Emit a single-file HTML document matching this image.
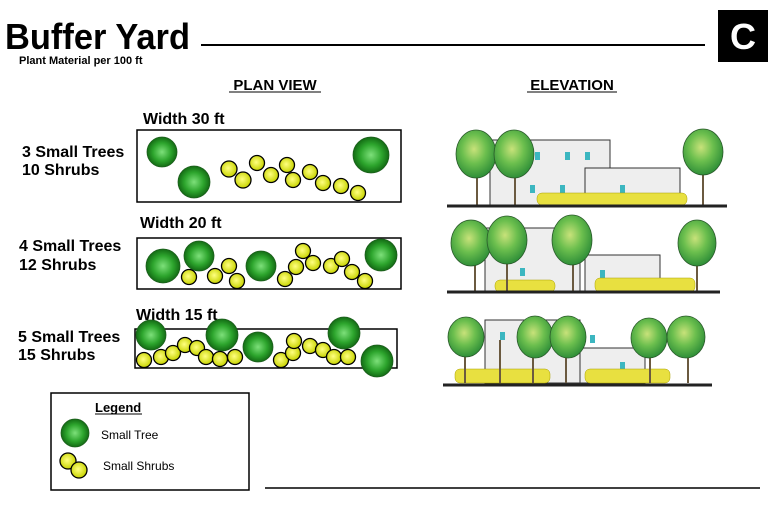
<!DOCTYPE html><html><head><style>
body{margin:0;width:784px;height:500px;background:#fff;overflow:hidden;font-family:"Liberation Sans",sans-serif}
</style></head><body>
<svg width="784" height="500" xmlns="http://www.w3.org/2000/svg">
<defs>
<radialGradient id="g" cx="50%" cy="50%" r="50%"><stop offset="0" stop-color="#7de07a"/><stop offset="0.6" stop-color="#2da52d"/><stop offset="1" stop-color="#136b14"/></radialGradient>
<radialGradient id="y" cx="45%" cy="45%" r="55%"><stop offset="0" stop-color="#ffff80"/><stop offset="1" stop-color="#c8d400"/></radialGradient>
<radialGradient id="lt" cx="45%" cy="40%" r="60%"><stop offset="0" stop-color="#c8e27a"/><stop offset="0.5" stop-color="#6cbf4e"/><stop offset="1" stop-color="#2f8f38"/></radialGradient>
</defs>
<text x="5" y="49" font-size="36" font-weight="bold" fill="#000" textLength="185" lengthAdjust="spacingAndGlyphs">Buffer Yard</text>
<text x="19" y="64" font-size="11" font-weight="bold">Plant Material per 100 ft</text>
<line x1="201" y1="45" x2="705" y2="45" stroke="#000" stroke-width="2"/>
<rect x="718" y="10" width="50" height="52" fill="#000"/>
<text x="743" y="49" font-size="36" font-weight="bold" fill="#fff" text-anchor="middle">C</text>
<text x="275" y="90" font-size="15" font-weight="bold" text-anchor="middle">PLAN VIEW</text>
<line x1="229" y1="92" x2="321" y2="92" stroke="#000"/>
<text x="572" y="90" font-size="15" font-weight="bold" text-anchor="middle">ELEVATION</text>
<line x1="527" y1="92" x2="617" y2="92" stroke="#000"/>
<g font-size="16" font-weight="bold">
<text x="143" y="124">Width 30 ft</text>
<text x="22" y="157">3 Small Trees</text><text x="22" y="175">10 Shrubs</text>
<text x="140" y="228">Width 20 ft</text>
<text x="19" y="251">4 Small Trees</text><text x="19" y="270">12 Shrubs</text>
<text x="136" y="320">Width 15 ft</text>
<text x="18" y="342">5 Small Trees</text><text x="18" y="360">15 Shrubs</text>
</g>
<g fill="none" stroke="#000" stroke-width="1.5">
<rect x="137" y="130" width="264" height="72"/>
<rect x="137" y="238" width="264" height="51"/>
<rect x="135" y="329" width="262" height="39"/>
</g>
<g fill="url(#g)" stroke="#1d5e1d" stroke-width="0.8">
<circle cx="162" cy="152" r="15"/><circle cx="194" cy="182" r="16"/><circle cx="371" cy="155" r="18"/>
<circle cx="163" cy="266" r="17"/><circle cx="199" cy="256" r="15"/><circle cx="261" cy="266" r="15"/><circle cx="381" cy="255" r="16"/>
<circle cx="151" cy="335" r="15"/><circle cx="222" cy="335" r="16"/><circle cx="258" cy="347" r="15"/><circle cx="344" cy="333" r="16"/><circle cx="377" cy="361" r="16"/>
<circle cx="75" cy="433" r="14"/>
</g>
<g fill="url(#y)" stroke="#000" stroke-width="1.3">
<circle cx="229" cy="169" r="8"/><circle cx="243" cy="180" r="8"/><circle cx="257" cy="163" r="7.5"/><circle cx="271" cy="175" r="7.5"/><circle cx="287" cy="165" r="7.5"/><circle cx="293" cy="180" r="7.5"/><circle cx="310" cy="172" r="7.5"/><circle cx="323" cy="183" r="7.5"/><circle cx="341" cy="186" r="7.5"/><circle cx="358" cy="193" r="7.5"/>
<circle cx="189" cy="277" r="7.5"/><circle cx="215" cy="276" r="7.5"/><circle cx="229" cy="266" r="7.5"/><circle cx="237" cy="281" r="7.5"/><circle cx="285" cy="279" r="7.5"/><circle cx="296" cy="267" r="7.5"/><circle cx="303" cy="251" r="7.5"/><circle cx="313" cy="263" r="7.5"/><circle cx="331" cy="266" r="7.5"/><circle cx="342" cy="259" r="7.5"/><circle cx="352" cy="272" r="7.5"/><circle cx="365" cy="281" r="7.5"/>
<circle cx="144" cy="360" r="7.5"/><circle cx="161" cy="357" r="7.5"/><circle cx="173" cy="353" r="7.5"/><circle cx="185" cy="345" r="7.5"/><circle cx="197" cy="348" r="7.5"/><circle cx="206" cy="357" r="7.5"/><circle cx="220" cy="359" r="7.5"/><circle cx="235" cy="357" r="7.5"/><circle cx="281" cy="360" r="7.5"/><circle cx="293" cy="353" r="7.5"/><circle cx="294" cy="341" r="7.5"/><circle cx="310" cy="346" r="7.5"/><circle cx="323" cy="350" r="7.5"/><circle cx="334" cy="357" r="7.5"/><circle cx="348" cy="357" r="7.5"/>
<circle cx="68" cy="461" r="8"/><circle cx="79" cy="470" r="8"/>
</g>
<g stroke="#333" stroke-width="1">
<rect x="490" y="140" width="120" height="65" fill="#eee"/><rect x="585" y="168" width="95" height="37" fill="#eee"/>
<rect x="485" y="228" width="95" height="64" fill="#eee"/><rect x="585" y="255" width="75" height="37" fill="#eee"/>
<rect x="485" y="320" width="95" height="63" fill="#eee"/><rect x="580" y="348" width="65" height="35" fill="#eee"/>
</g>
<g fill="#3cb6c0">
<rect x="535" y="152" width="5" height="8"/><rect x="565" y="152" width="5" height="8"/><rect x="585" y="152" width="5" height="8"/>
<rect x="530" y="185" width="5" height="8"/><rect x="560" y="185" width="5" height="8"/><rect x="620" y="185" width="5" height="8"/>
<rect x="585" y="238" width="5" height="8"/><rect x="520" y="268" width="5" height="8"/><rect x="600" y="270" width="5" height="8"/>
<rect x="500" y="332" width="5" height="8"/><rect x="590" y="335" width="5" height="8"/><rect x="620" y="362" width="5" height="8"/>
</g>
<g fill="#e8e040" stroke="#aaa000" stroke-width="0.5">
<rect x="537" y="193" width="150" height="12" rx="5"/>
<rect x="495" y="280" width="60" height="12" rx="5"/><rect x="595" y="278" width="100" height="14" rx="5"/>
<rect x="455" y="369" width="95" height="14" rx="5"/><rect x="585" y="369" width="85" height="14" rx="5"/>
</g>
<g stroke="#6b5a40" stroke-width="2">
<line x1="477" y1="160" x2="477" y2="205"/><line x1="515" y1="160" x2="515" y2="205"/><line x1="703" y1="160" x2="703" y2="205"/>
<line x1="475" y1="248" x2="475" y2="292"/><line x1="507" y1="248" x2="507" y2="292"/><line x1="573" y1="248" x2="573" y2="292"/><line x1="697" y1="248" x2="697" y2="292"/>
<line x1="465" y1="340" x2="465" y2="383"/><line x1="500" y1="340" x2="500" y2="383"/><line x1="533" y1="340" x2="533" y2="383"/><line x1="566" y1="340" x2="566" y2="383"/><line x1="650" y1="340" x2="650" y2="383"/><line x1="688" y1="340" x2="688" y2="383"/>
</g>
<g fill="url(#lt)" stroke="#2a5a2a" stroke-width="0.8">
<ellipse cx="476" cy="154" rx="20" ry="24"/><ellipse cx="514" cy="154" rx="20" ry="24"/><ellipse cx="703" cy="152" rx="20" ry="23"/>
<ellipse cx="471" cy="243" rx="20" ry="23"/><ellipse cx="507" cy="240" rx="20" ry="24"/><ellipse cx="572" cy="240" rx="20" ry="25"/><ellipse cx="697" cy="243" rx="19" ry="23"/>
<ellipse cx="466" cy="337" rx="18" ry="20"/><ellipse cx="535" cy="337" rx="18" ry="21"/><ellipse cx="568" cy="337" rx="18" ry="21"/><ellipse cx="649" cy="338" rx="18" ry="20"/><ellipse cx="686" cy="337" rx="19" ry="21"/>
</g>
<g stroke="#222" stroke-width="3">
<line x1="447" y1="206" x2="727" y2="206"/><line x1="447" y1="292" x2="720" y2="292"/><line x1="443" y1="385" x2="712" y2="385"/>
</g>
<rect x="51" y="393" width="198" height="97" fill="none" stroke="#000" stroke-width="1.5"/>
<text x="95" y="412" font-size="13" font-weight="bold">Legend</text>
<line x1="95" y1="414" x2="142" y2="414" stroke="#000"/>
<text x="101" y="439" font-size="12">Small Tree</text>
<text x="103" y="470" font-size="12">Small Shrubs</text>
<line x1="265" y1="488" x2="760" y2="488" stroke="#000" stroke-width="1.5"/>
</svg>
</body></html>
